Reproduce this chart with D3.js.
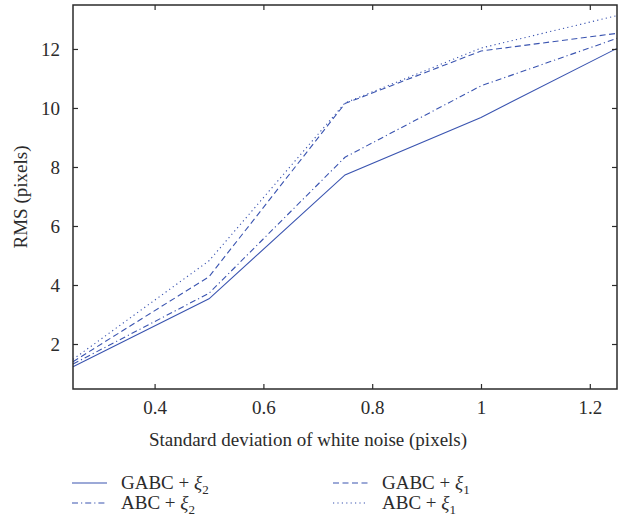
<!DOCTYPE html>
<html>
<head>
  <meta charset="UTF-8">
  <title>RMS vs white noise</title>
  <script src="https://d3js.org/d3.v7.min.js"></script>
  <style>
    body { margin: 0; background: #fff; }
    text { font-family: "Liberation Serif", "DejaVu Serif", serif; fill: #2b2b2b; }
    .frame { fill: none; stroke: #2b2b2b; stroke-width: 1.5px; }
    .series { fill: none; stroke: #3a54b0; stroke-width: 1.1px; }
  </style>
</head>
<body>
<div id="chart"></div>
<script>
  // noise levels on the x axis
  var noise = [0.25, 0.5, 0.75, 1.0, 1.25];

  // RMS values
  var gabcXi2 = [1.23, 3.53, 7.73, 9.68, 12.02];
  var gabcXi1 = [1.40, 4.28, 10.15, 11.93, 12.53];
  var abcXi2  = [1.32, 3.72, 8.33, 10.75, 12.36];
  var abcXi1  = [1.48, 4.82, 10.17, 12.03, 13.13];

  var xTicks = [0.4, 0.6, 0.8, 1, 1.2];
  var yTicks = [2, 4, 6, 8, 10, 12];

  var series = [
    { name: "GABC + ", sub: "2", values: gabcXi2, dash: null },
    { name: "GABC + ", sub: "1", values: gabcXi1, dash: "6,3.5" },
    { name: "ABC + ",  sub: "2", values: abcXi2,  dash: "6,3,1.2,3" },
    { name: "ABC + ",  sub: "1", values: abcXi1,  dash: "1.2,3.2" }
  ];

  var width = 625, height = 527;
  // plot box edges (don't call these top/left, window.top is read-only)
  var boxL = 73, boxR = 617, boxT = 5, boxB = 389;

  var svg = d3.select("#chart").append("svg")
      .attr("width", width)
      .attr("height", height);

  var x = d3.scaleLinear().domain([0.25, 1.25]).range([boxL, boxR]);
  var y = d3.scaleLinear().domain([0.475, 13.49]).range([boxB, boxT]);

  // lines first, then the frame on top
  var line = d3.line()
      .x(function(d, i) { return x(noise[i]); })
      .y(function(d) { return y(d); });

  svg.selectAll("path.series")
    .data(series)
    .enter().append("path")
      .attr("class", "series")
      .attr("d", function(s) { return line(s.values); })
      .attr("stroke-dasharray", function(s) { return s.dash; });

  // axes with inward ticks, mirrored on top and right
  function styleAxis(g) {
    g.select(".domain").remove();
    g.selectAll(".tick line").attr("stroke", "#2b2b2b").attr("stroke-width", 1.2);
    g.selectAll(".tick text").style("font-size", "19px").attr("fill", "#2b2b2b");
  }

  svg.append("g")
      .attr("transform", "translate(0," + boxB + ")")
      .call(d3.axisBottom(x).tickValues(xTicks).tickFormat(d3.format("")).tickSizeInner(-5).tickSizeOuter(0).tickPadding(12))
      .call(styleAxis);

  svg.append("g")
      .attr("transform", "translate(0," + boxT + ")")
      .call(d3.axisTop(x).tickValues(xTicks).tickFormat("").tickSizeInner(-5).tickSizeOuter(0))
      .call(styleAxis);

  svg.append("g")
      .attr("transform", "translate(" + boxL + ",0)")
      .call(d3.axisLeft(y).tickValues(yTicks).tickSizeInner(-5).tickSizeOuter(0).tickPadding(13))
      .call(styleAxis);

  svg.append("g")
      .attr("transform", "translate(" + boxR + ",0)")
      .call(d3.axisRight(y).tickValues(yTicks).tickFormat("").tickSizeInner(-5).tickSizeOuter(0))
      .call(styleAxis);

  svg.append("rect")
      .attr("class", "frame")
      .attr("x", boxL).attr("y", boxT)
      .attr("width", boxR - boxL).attr("height", boxB - boxT);

  // axis titles
  svg.append("text")
      .attr("x", (boxL + boxR) / 2 - 37)
      .attr("y", 446)
      .attr("text-anchor", "middle")
      .style("font-size", "19px")
      .text("Standard deviation of white noise (pixels)");

  svg.append("text")
      .attr("transform", "translate(27," + ((boxT + boxB) / 2) + ") rotate(-90)")
      .attr("text-anchor", "middle")
      .style("font-size", "19px")
      .text("RMS (pixels)");

  // legend, two columns
  var legendPos = [
    { lx: 72, ly: 483 },
    { lx: 333, ly: 483 },
    { lx: 72, ly: 503 },
    { lx: 333, ly: 503 }
  ];

  var item = svg.selectAll("g.legend")
    .data(series)
    .enter().append("g")
      .attr("class", "legend")
      .attr("transform", function(d, i) {
        return "translate(" + legendPos[i].lx + "," + legendPos[i].ly + ")";
      });

  item.append("line")
      .attr("class", "series")
      .attr("x1", 0).attr("x2", 35)
      .attr("y1", 0).attr("y2", 0)
      .attr("stroke-dasharray", function(d) { return d.dash; });

  var label = item.append("text")
      .attr("x", 49)
      .attr("y", 6)
      .style("font-size", "19px");
  label.append("tspan").text(function(d) { return d.name; });
  label.append("tspan").style("font-style", "italic").text("ξ");
  label.append("tspan")
      .attr("dy", 5)
      .style("font-size", "13px")
      .text(function(d) { return d.sub; });
</script>
</body>
</html>
